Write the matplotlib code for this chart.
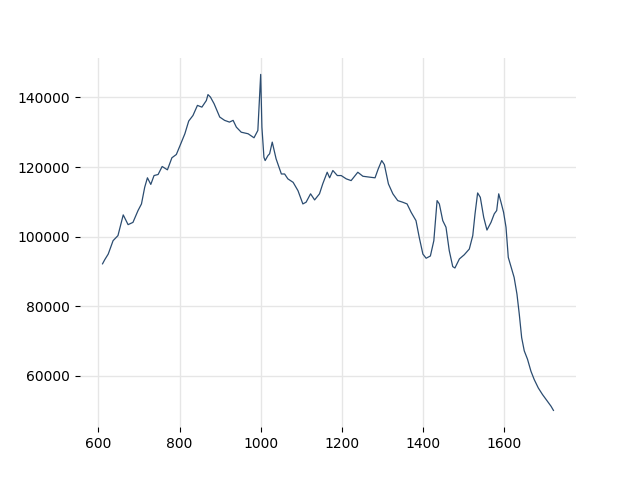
import matplotlib
matplotlib.use("Agg")
import matplotlib.pyplot as plt

wavenumber = [610, 615.5, 624, 636, 648, 661, 673, 685, 697.5, 706, 714, 720.7, 729, 737, 747, 757,
              770, 781, 792, 803, 813, 822.5, 833, 844, 855, 866, 870, 876, 885, 899, 911, 923,
              932, 940, 952, 969, 983.5, 993, 1000, 1003, 1008, 1011, 1018, 1022, 1028.5, 1038,
              1051, 1059, 1067, 1080, 1092, 1104, 1112, 1123, 1133, 1145, 1153, 1164, 1170, 1178,
              1189, 1198.5, 1211, 1223, 1239.5, 1252, 1268, 1282, 1290, 1298.5, 1305, 1315, 1326,
              1338, 1350, 1361, 1371, 1383, 1391, 1400, 1408, 1418.5, 1427, 1435, 1440.6, 1449,
              1457, 1465, 1473.6, 1479, 1490, 1502, 1514.5, 1523, 1528.6, 1535, 1541.6, 1550,
              1558, 1568, 1576, 1582, 1587, 1592.6, 1599, 1605, 1610.6, 1619, 1625, 1632, 1637.7,
              1643.6, 1650, 1658, 1666.5, 1674.6, 1684.6, 1695, 1706, 1716, 1722]
intensity = [92200, 93400, 95000, 98850, 100300, 106250, 103450, 104100, 107500, 109400, 114200,
             116900, 115000, 117550, 117850, 120150, 119200, 122650, 123600, 126700, 129550,
             133200, 134800, 137700, 137200, 139100, 140800, 140100, 138200, 134350, 133400,
             132900, 133400, 131450, 130000, 129550, 128400, 130500, 146600, 131450, 122800,
             121850, 123300, 123800, 127150, 122350, 118000, 118000, 116600, 115600, 113200,
             109400, 109900, 112300, 110550, 112300, 115150, 118500, 116900, 119000, 117550,
             117550, 116600, 116100, 118500, 117350, 117100, 116900, 119500, 121850, 120700,
             115150, 112300, 110350, 109900, 109400, 107000, 104600, 99800, 95000, 93800,
             94450, 98850, 110350, 109400, 104600, 102700, 96000, 91400, 91000, 93600, 94800,
             96450, 100300, 106550, 112550, 111300, 105550, 101900, 104100, 106550, 107500,
             112300, 109900, 107000, 102700, 94050, 90700, 88300, 83500, 77750, 71000, 67200,
             64800, 61350, 58950, 56550, 54650, 52900, 51300, 50100]

fig, ax = plt.subplots(figsize=(6.4, 4.8), dpi=100)
ax.plot(wavenumber, intensity, color="#2b4c70", linewidth=0.9)
ax.grid(True, color="#e6e6e6", linewidth=1)
ax.set_axisbelow(True)
for s in ax.spines.values():
    s.set_visible(False)
ax.set_xticks([600, 800, 1000, 1200, 1400, 1600])
ax.set_yticks([60000, 80000, 100000, 120000, 140000])
fig.savefig("out.png", dpi=100)
